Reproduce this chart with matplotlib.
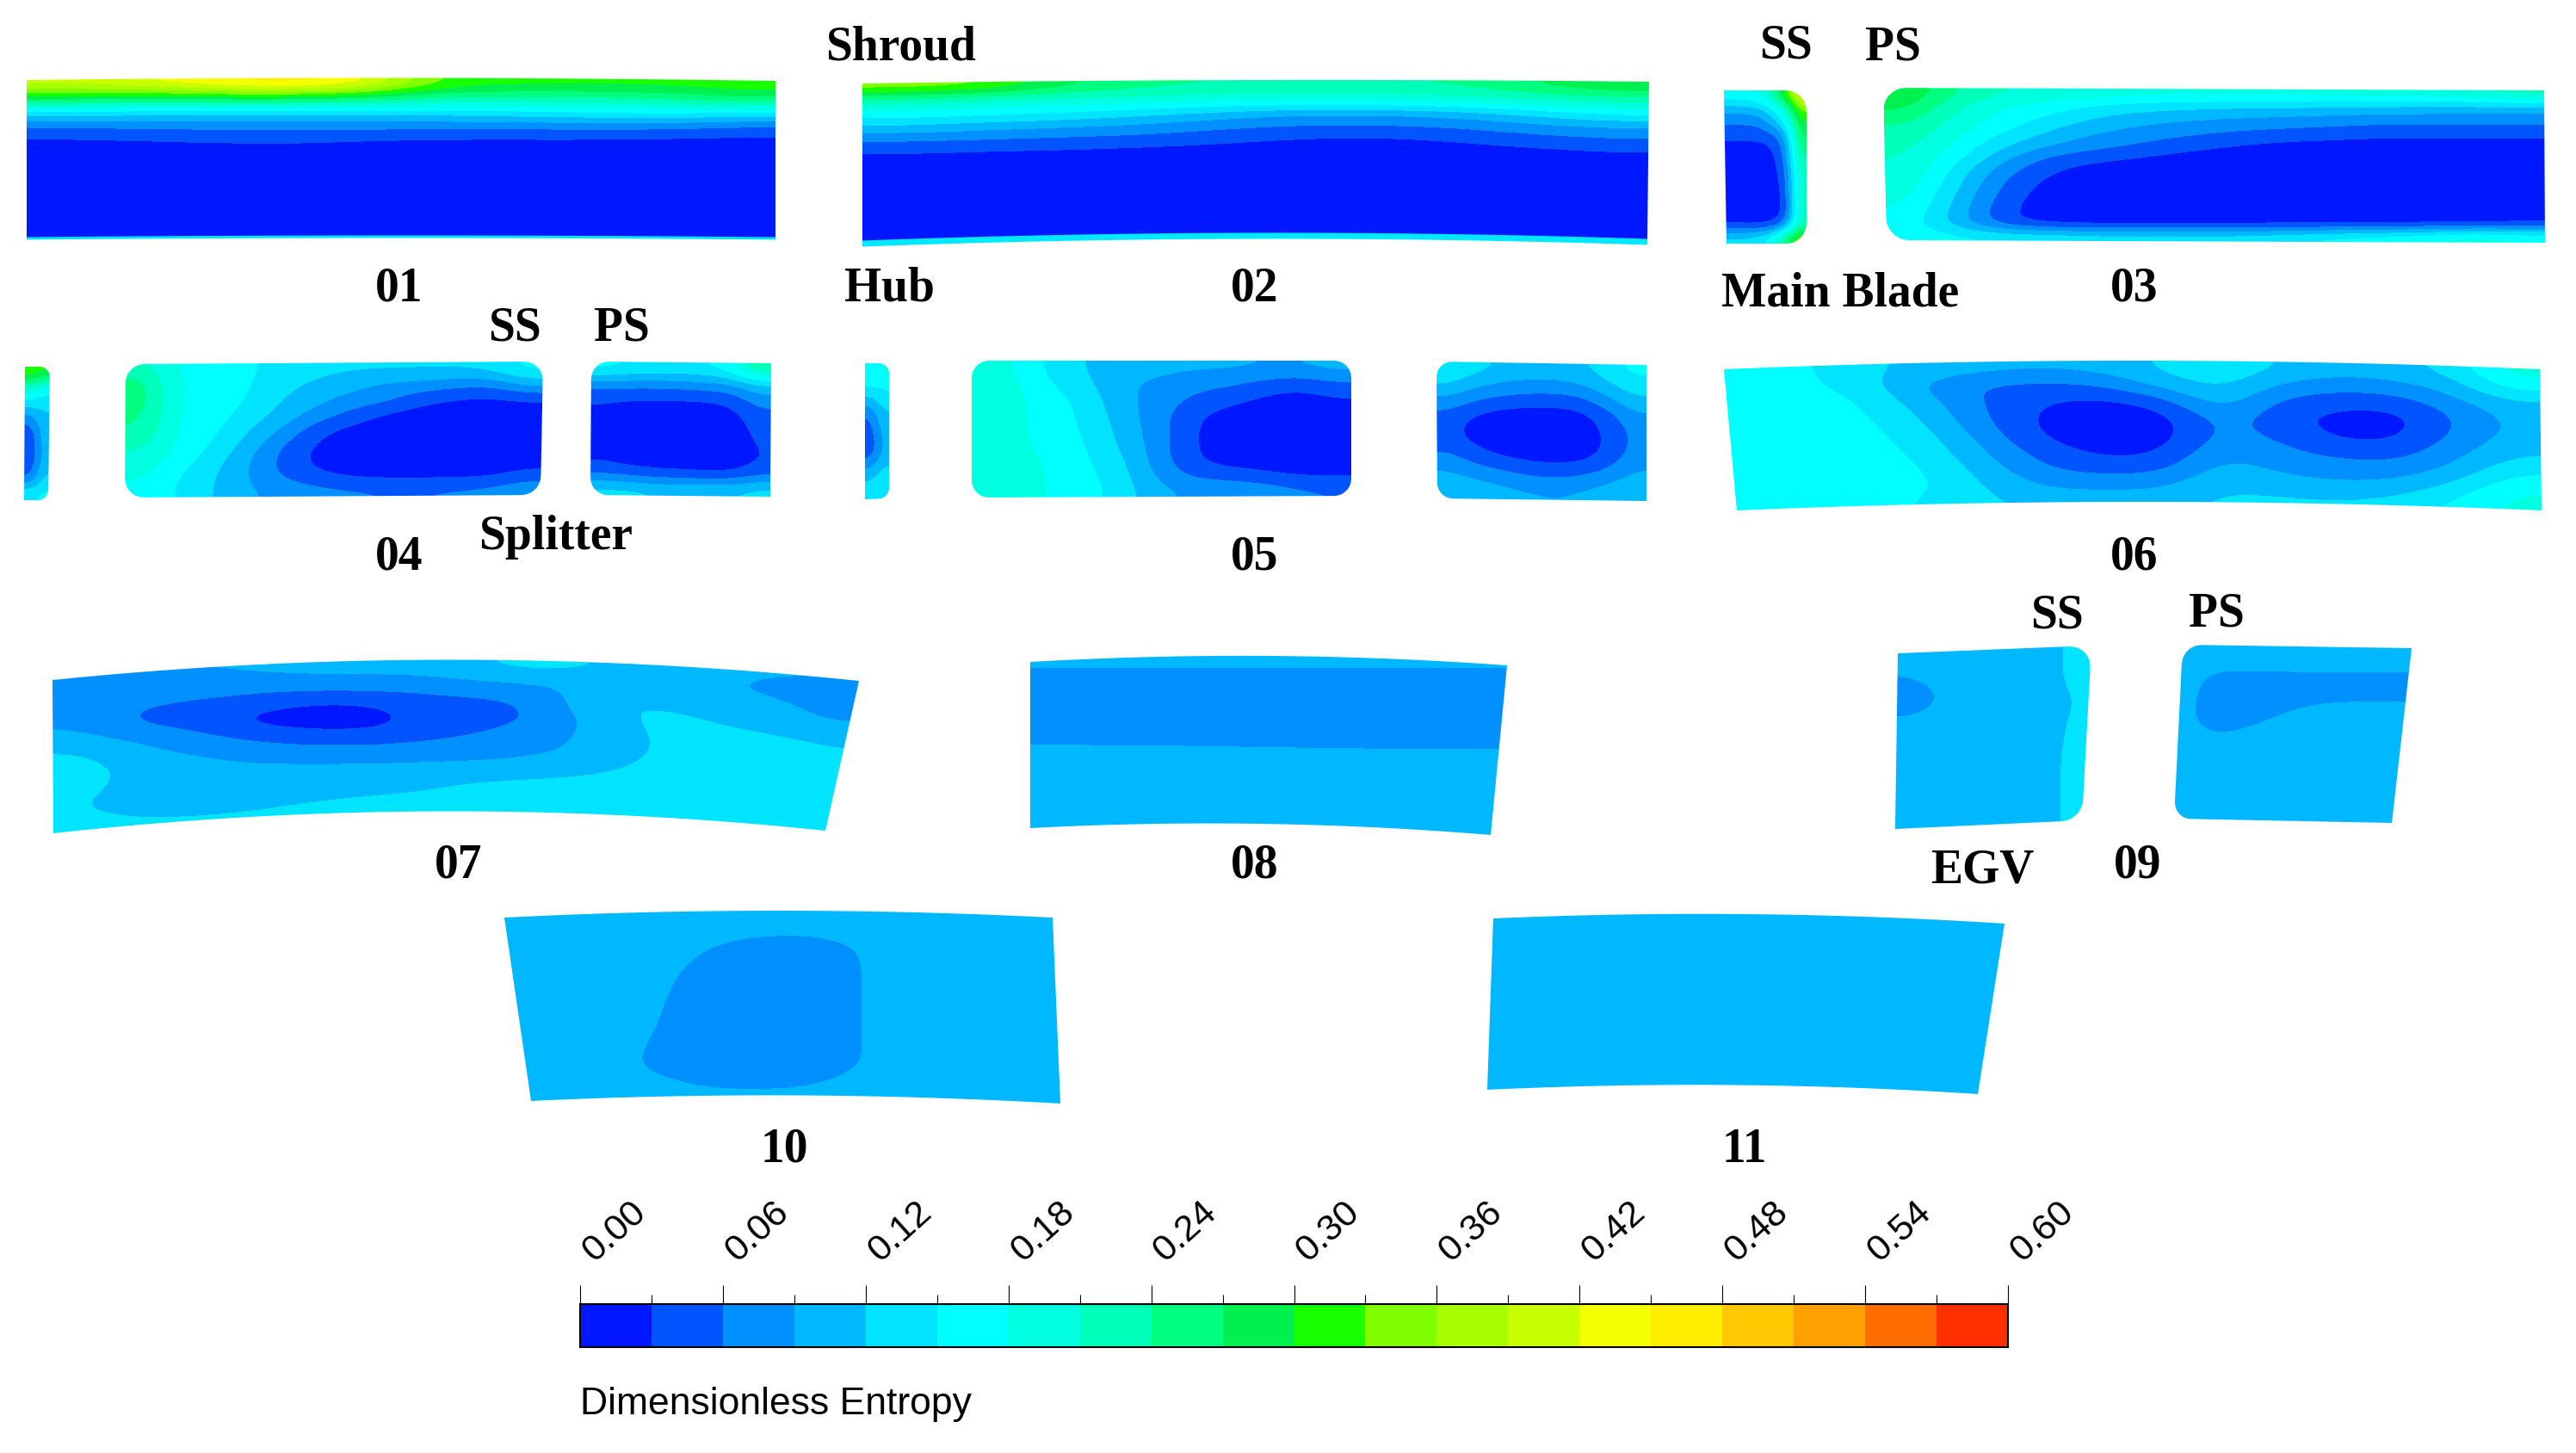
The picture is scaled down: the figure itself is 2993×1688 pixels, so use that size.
import numpy as np
import matplotlib
matplotlib.use('Agg')
import matplotlib.pyplot as plt
from matplotlib.colors import ListedColormap, BoundaryNorm
from matplotlib.path import Path
from matplotlib.cm import ScalarMappable
from matplotlib.transforms import ScaledTranslation

# contour bands of the legend
levels = [round(0.03 * i, 2) for i in range(21)]
band_colors = ['#0018ff', '#0055ff', '#0090ff', '#00b8ff', '#00e4ff', '#00ffff', '#00ffe0', '#00ffb8',
               '#00ff80', '#00f050', '#18ff00', '#80ff00', '#a8ff00', '#c8ff00', '#f4ff00', '#ffee00',
               '#ffc800', '#ffa000', '#ff6c00', '#ff3000']
major_ticks = [0.00, 0.06, 0.12, 0.18, 0.24, 0.30, 0.36, 0.42, 0.48, 0.54, 0.60]
minor_ticks = [0.03, 0.09, 0.15, 0.21, 0.27, 0.33, 0.39, 0.45, 0.51, 0.57]

s01 = [[.40, .42, .45, .47, .44, .32, .31, .31, .31, .32],
       [.30, .28, .29, .29, .27, .24, .24, .24, .25, .28],
       [.15, .14, .14, .14, .14, .14, .15, .16, .17, .16],
       [.068, .07, .072, .073, .075, .075, .075, .078, .078, .065],
       [.03, .035, .04, .042, .035, .03, .03, .03, .028, .025],
       [.012, .012, .014, .016, .012, .012, .012, .012, .012, .012],
       [.008] * 10, [.008] * 10, [.008] * 10, [.008] * 10, [.008] * 10, [.008] * 10]
s02 = [[.36, .34, .28, .25, .24, .24, .24, .24, .27, .30],
       [.23, .21, .20, .20, .19, .19, .19, .20, .21, .23],
       [.17, .16, .15, .13, .11, .09, .09, .10, .13, .16],
       [.115, .10, .09, .08, .065, .055, .055, .06, .075, .09],
       [.06, .055, .05, .045, .035, .025, .02, .03, .045, .055],
       [.028, .022, .02, .015, .012, .01, .01, .01, .015, .025],
       [.008] * 10, [.008] * 10, [.008] * 10, [.008] * 10, [.008] * 10, [.008] * 10]
s03_ss = [[.17, .17, .18, .22, .32, .42],
          [.10, .10, .11, .14, .20, .34],
          [.065, .065, .07, .10, .16, .30],
          [.038, .038, .04, .05, .09, .28],
          [.02, .02, .02, .025, .07, .26],
          [.012, .012, .014, .018, .06, .24],
          [.012, .012, .012, .015, .05, .22],
          [.012, .012, .012, .012, .04, .22],
          [.012, .012, .012, .012, .035, .22],
          [.012, .012, .012, .012, .03, .22],
          [.025, .02, .02, .025, .07, .22],
          [.13, .13, .14, .17, .26, .34]]
s03_ps = [[.30, .24, .21, .20, .20, .19, .19, .19, .19, .20, .20, .20, .21, .23],
          [.28, .21, .18, .165, .14, .13, .125, .12, .12, .115, .115, .11, .11, .11],
          [.25, .20, .17, .14, .115, .10, .09, .085, .08, .075, .07, .07, .07, .07],
          [.23, .19, .15, .115, .09, .075, .065, .055, .05, .045, .04, .04, .04, .04],
          [.22, .175, .125, .09, .07, .055, .04, .028, .02, .018, .015, .015, .015, .015],
          [.21, .165, .095, .05, .035, .025, .015, .012, .01, .01, .01, .01, .01, .01],
          [.21, .14, .07, .03, .015, .012, .01, .01, .01, .01, .01, .01, .01, .01],
          [.20, .13, .055, .018, .01, .01, .01, .01, .01, .01, .01, .01, .01, .01],
          [.19, .12, .045, .012, .01, .01, .01, .01, .01, .01, .01, .01, .01, .01],
          [.18, .11, .035, .012, .01, .01, .01, .01, .01, .01, .01, .01, .01, .01],
          [.17, .11, .04, .015, .012, .012, .012, .012, .012, .012, .012, .012, .012, .02],
          [.17, .16, .15, .15, .14, .14, .14, .14, .15, .16, .17, .18, .20, .18]]
s04_strip = [[.32, .32, .30], [.22, .20, .18], [.15, .14, .13], [.09, .11, .12], [.05, .08, .11],
             [.03, .07, .11], [.028, .07, .105], [.035, .08, .11], [.07, .10, .13], [.15, .15, .16]]
s04_ss = [[.22, .175, .17, .155, .14, .13, .125, .125, .125, .125, .13, .16],
          [.26, .175, .17, .155, .13, .115, .10, .085, .08, .07, .065, .10],
          [.26, .175, .17, .15, .12, .10, .08, .07, .04, .028, .022, .03],
          [.25, .175, .165, .14, .11, .08, .05, .025, .015, .012, .012, .015],
          [.24, .175, .16, .125, .09, .04, .02, .012, .01, .01, .01, .015],
          [.22, .175, .15, .11, .06, .025, .012, .01, .01, .01, .01, .015],
          [.20, .17, .135, .095, .05, .02, .012, .01, .01, .01, .01, .015],
          [.19, .15, .125, .09, .055, .035, .022, .02, .02, .02, .022, .04],
          [.17, .15, .12, .095, .08, .07, .065, .06, .06, .065, .07, .09]]
s04_ps = [[.16, .15, .145, .145, .15, .17, .25],
          [.07, .07, .07, .075, .08, .09, .12],
          [.035, .03, .03, .03, .032, .04, .08],
          [.02, .012, .012, .012, .012, .02, .05],
          [.02, .012, .012, .012, .012, .015, .04],
          [.02, .012, .012, .012, .012, .012, .035],
          [.025, .015, .012, .012, .012, .012, .03],
          [.06, .05, .04, .035, .03, .03, .05],
          [.13, .13, .12, .12, .12, .12, .13]]
s05_strip = [[.18, .17, .19], [.16, .16, .16], [.12, .13, .14], [.07, .10, .12], [.05, .08, .11],
             [.04, .07, .10], [.04, .07, .10], [.08, .10, .12], [.12, .13, .14], [.13, .14, .15]]
s05_ss = [[.20, .17, .135, .115, .105, .10, .095, .095, .09, .09, .10],
          [.21, .175, .145, .12, .095, .08, .07, .065, .05, .038, .055],
          [.21, .18, .16, .13, .095, .075, .055, .04, .025, .018, .028],
          [.21, .18, .165, .135, .10, .07, .035, .018, .012, .01, .015],
          [.21, .18, .165, .14, .105, .07, .028, .012, .01, .01, .012],
          [.21, .18, .17, .145, .11, .07, .028, .012, .01, .01, .012],
          [.21, .19, .17, .15, .12, .07, .03, .016, .012, .01, .015],
          [.21, .19, .175, .155, .125, .08, .05, .045, .035, .025, .025],
          [.21, .19, .175, .16, .13, .095, .085, .085, .08, .065, .06]]
s05_ps = [[.15, .13, .115, .11, .11, .115, .135, .16],
          [.12, .095, .085, .08, .08, .09, .115, .14],
          [.08, .06, .05, .045, .045, .05, .08, .115],
          [.05, .025, .015, .012, .012, .02, .045, .085],
          [.04, .015, .01, .01, .01, .012, .035, .07],
          [.05, .03, .015, .01, .01, .012, .032, .07],
          [.08, .055, .04, .03, .025, .028, .045, .08],
          [.10, .09, .08, .065, .06, .065, .08, .10],
          [.115, .11, .10, .095, .09, .095, .105, .11]]
s06 = [[.175, .15, .125, .11, .10, .095, .10, .125, .15, .115, .105, .11, .13, .20],
       [.175, .155, .13, .08, .055, .05, .06, .10, .13, .085, .07, .08, .105, .17],
       [.178, .17, .145, .10, .055, .03, .018, .04, .115, .05, .04, .04, .08, .115],
       [.178, .17, .155, .115, .06, .02, .012, .01, .08, .04, .018, .015, .06, .10],
       [.178, .175, .16, .13, .075, .022, .012, .01, .075, .055, .022, .02, .065, .10],
       [.178, .178, .165, .14, .09, .045, .02, .025, .09, .07, .05, .045, .08, .115],
       [.178, .178, .17, .15, .105, .06, .05, .05, .105, .085, .075, .07, .095, .14],
       [.178, .178, .175, .155, .12, .085, .08, .085, .12, .105, .095, .10, .125, .17],
       [.178, .178, .175, .14, .125, .115, .115, .11, .125, .13, .125, .13, .155, .19]]
s07 = [[.09, .09, .09, .095, .10, .10, .105, .12, .13, .12, .105, .10, .10, .10],
       [.085, .08, .08, .075, .075, .075, .07, .08, .085, .105, .105, .093, .08, .075],
       [.08, .065, .055, .045, .028, .03, .05, .05, .065, .125, .118, .105, .095, .08],
       [.085, .05, .045, .018, .012, .012, .04, .05, .062, .105, .13, .12, .105, .085],
       [.095, .085, .07, .055, .045, .045, .055, .065, .08, .10, .125, .13, .125, .11],
       [.125, .10, .09, .08, .08, .08, .08, .08, .088, .10, .125, .135, .145, .125],
       [.135, .11, .105, .10, .10, .10, .105, .11, .115, .12, .13, .15, .15, .13],
       [.13, .105, .105, .105, .11, .115, .12, .13, .13, .13, .135, .145, .14, .13],
       [.122, .105, .11, .118, .125, .13, .13, .135, .135, .135, .135, .135, .135, .13],
       [.13] * 14]
s08 = [[.094, .094, .094, .094], [.08, .08, .08, .08], [.08, .08, .08, .08], [.08, .08, .08, .08],
       [.08, .08, .078, .078], [.10, .098, .096, .095], [.105, .105, .105, .105], [.105, .105, .105, .105],
       [.105, .105, .105, .105], [.105, .105, .105, .105]]
s09_ss = [[.10, .10, .10, .10, .10, .10, .10, .15],
          [.092, .098, .10, .10, .10, .10, .10, .15],
          [.07, .085, .10, .10, .10, .10, .10, .125],
          [.093, .098, .10, .10, .10, .10, .10, .135],
          [.10, .10, .10, .10, .10, .10, .10, .145],
          [.10, .10, .10, .10, .10, .10, .105, .15],
          [.10, .10, .10, .10, .10, .10, .105, .15],
          [.10, .10, .10, .10, .10, .10, .105, .15],
          [.10, .10, .10, .10, .10, .10, .105, .15]]
s09_ps = [[.10, .10, .10, .10, .10, .10, .10, .10, .10],
          [.097, .085, .085, .085, .085, .085, .085, .085, .085],
          [.095, .08, .08, .08, .085, .087, .088, .088, .088],
          [.095, .08, .085, .092, .097, .10, .10, .10, .10],
          [.098, .10, .10, .10, .10, .10, .10, .10, .10],
          [.10, .10, .10, .10, .10, .10, .10, .10, .10],
          [.10, .10, .10, .10, .10, .10, .10, .10, .10],
          [.10, .10, .10, .10, .10, .10, .10, .10, .10]]
s10 = [[.10] * 10,
       [.10, .10, .10, .092, .082, .08, .092, .10, .10, .10],
       [.10, .10, .10, .085, .08, .08, .091, .10, .10, .10],
       [.10, .10, .098, .08, .08, .08, .091, .10, .10, .10],
       [.10, .10, .095, .08, .08, .08, .091, .10, .10, .10],
       [.10, .10, .091, .08, .08, .08, .091, .10, .10, .10],
       [.10, .10, .088, .08, .08, .08, .091, .10, .10, .10],
       [.10, .10, .10, .093, .093, .093, .10, .10, .10, .10]]
s11 = [[.10, .10, .10], [.10, .10, .10], [.10, .10, .10]]

# grid, corners tl tr br bl in pixels, bow of top and bottom edge, corner radii tl tr br bl
sections = [
    (s01, (31, 93), (901, 94), (901, 277), (31, 277), 3, 2, (0, 0, 0, 0)),
    (s02, (1002, 97), (1916, 95), (1914, 281), (1002, 283), 3, 8, (0, 0, 0, 0)),
    (s03_ss, (2003, 105), (2099, 105), (2099, 283), (2006, 283), 0, 0, (0, 24, 24, 0)),
    (s03_ps, (2188, 102), (2956, 105), (2957, 282), (2192, 279), 0, 0, (26, 0, 0, 26)),
    (s04_strip, (29, 426), (58, 426), (56, 581), (28, 581), 0, 0, (0, 12, 12, 0)),
    (s04_ss, (146, 423), (631, 420), (628, 575), (145, 578), 0, 0, (22, 22, 22, 22)),
    (s04_ps, (687, 420), (896, 422), (895, 577), (686, 575), 0, 0, (20, 0, 0, 20)),
    (s05_strip, (1005, 422), (1033, 422), (1033, 579), (1005, 580), 0, 0, (0, 12, 12, 0)),
    (s05_ss, (1129, 419), (1570, 419), (1570, 576), (1129, 578), 0, 0, (20, 20, 20, 20)),
    (s05_ps, (1669, 420), (1913, 424), (1913, 582), (1670, 579), 0, 0, (18, 0, 0, 18)),
    (s06, (2003, 429), (2951, 429), (2953, 593), (2018, 593), 10, 10, (0, 0, 0, 0)),
    (s07, (61, 790), (998, 791), (959, 965), (62, 968), 24, 24, (0, 0, 0, 0)),
    (s08, (1197, 769), (1751, 773), (1732, 970), (1197, 962), 9, 9, (0, 0, 0, 0)),
    (s09_ss, (2205, 759), (2430, 750), (2419, 953), (2202, 963), 0, 0, (0, 26, 24, 0)),
    (s09_ps, (2536, 749), (2802, 753), (2779, 956), (2526, 951), 0, 0, (22, 0, 0, 20)),
    (s10, (586, 1066), (1223, 1066), (1232, 1282), (617, 1279), 8, 8, (0, 0, 0, 0)),
    (s11, (1735, 1067), (2329, 1073), (2298, 1271), (1728, 1266), 8, 8, (0, 0, 0, 0)),
]
# thin bright line along the hub of the first two sections: section, width in px
hub_lines = [(0, 3), (1, 7)]

labels = ['Shroud', '01', 'Hub', '02', 'Main Blade', '03', 'SS', 'PS', 'SS', 'PS', '04', 'Splitter',
          '05', '06', '07', '08', 'SS', 'PS', 'EGV', '09', '10', '11']
label_x = [1046, 464, 1033, 1458, 2138, 2480, 2075, 2199, 598, 722, 464, 646,
           1458, 2480, 533, 1458, 2390, 2575, 2303, 2484, 911, 2027]
label_y = [56, 335, 335, 335, 342, 335, 54, 56, 382, 382, 647, 624,
           647, 647, 1006, 1006, 716, 714, 1012, 1006, 1336, 1336]


def section_outline(tl, tr, br, bl, bow_top, bow_bot, radii):
    w = max(tr[0] - tl[0], 1)
    h = max(bl[1] - tl[1], 1)
    pts = []
    # rounded rectangle in unit square, going round from top left
    arcs = [(radii[0], 0, 0, 180, 270), (radii[1], 1, 0, 270, 360),
            (radii[2], 1, 1, 0, 90), (radii[3], 0, 1, 90, 180)]
    for r, cu, cv, a0, a1 in arcs:
        ru = r / w
        rv = r / h
        cx = cu + ru if cu == 0 else cu - ru
        cy = cv + rv if cv == 0 else cv - rv
        for a in np.radians(np.linspace(a0, a1, 8)):
            pts.append((cx + ru * np.cos(a), cy + rv * np.sin(a)))
        # long edge sampled too so that it can bow
        if cv == 0 and cu == 0:
            pts += [(u, 0) for u in np.linspace(ru, 1 - radii[1] / w, 40)]
        if cv == 1 and cu == 1:
            pts += [(u, 1) for u in np.linspace(1 - ru, radii[3] / w, 40)]
    out = []
    for u, v in pts:
        x = (1 - v) * ((1 - u) * tl[0] + u * tr[0]) + v * ((1 - u) * bl[0] + u * br[0])
        y = (1 - v) * ((1 - u) * tl[1] + u * tr[1]) + v * ((1 - u) * bl[1] + u * br[1])
        y -= (1 - (2 * u - 1) ** 2) * ((1 - v) * bow_top + v * bow_bot)
        out.append((x, y))
    out.append(out[0])
    return np.array(out)


cmap = ListedColormap(band_colors)
norm = BoundaryNorm(levels, cmap.N)

fig = plt.figure(figsize=(29.93, 16.88), dpi=100)
ax = fig.add_axes([0, 0, 1, 1])

for grid, tl, tr, br, bl, bow_top, bow_bot, radii in sections:
    outline = section_outline(tl, tr, br, bl, bow_top, bow_bot, radii)
    x0, y0 = outline.min(axis=0)
    x1, y1 = outline.max(axis=0)
    im = ax.imshow(np.array(grid), extent=(x0, x1, y1, y0), origin='upper', aspect='auto', cmap=cmap, norm=norm,
                   interpolation='bicubic', interpolation_stage='data')
    im.set_clip_path(Path(outline), ax.transData)

for idx, width in hub_lines:
    grid, tl, tr, br, bl, bow_top, bow_bot, radii = sections[idx]
    u = np.linspace(0, 1, 50)
    ax.plot(bl[0] + u * (br[0] - bl[0]), bl[1] + u * (br[1] - bl[1]) - (1 - (2 * u - 1) ** 2) * bow_bot,
            color='#00e8ff', lw=width * 0.72, solid_capstyle='butt')

for txt, x, y in zip(labels, label_x, label_y):
    ax.text(x, y, txt, family='Liberation Serif', weight='bold', size=40, ha='center', va='center')

ax.text(674, 1631, 'Dimensionless Entropy', family='Liberation Sans', size=32, ha='left', va='center')

ax.set_xlim(0, 2993)
ax.set_ylim(1688, 0)
ax.axis('off')

# legend bar
cax = fig.add_axes([674 / 2993, 1 - 1565 / 1688, (2333 - 674) / 2993, 50 / 1688])
cb = fig.colorbar(ScalarMappable(norm=norm, cmap=cmap), cax=cax, orientation='horizontal',
                  ticklocation='top', spacing='proportional', drawedges=False)
cb.set_ticks(major_ticks)
cb.set_ticks(minor_ticks, minor=True)
cb.set_ticklabels(['%.2f' % t for t in major_ticks])
cb.outline.set_linewidth(1.5)
cax.tick_params(axis='x', which='major', length=16, width=0.8, pad=14, labelsize=31)
cax.tick_params(axis='x', which='minor', length=8, width=0.8)
shift = ScaledTranslation(16 / 72, 0, fig.dpi_scale_trans)
for lab in cax.get_xticklabels():
    lab.set_family('Liberation Sans')
    lab.set_rotation(42)
    lab.set_rotation_mode('anchor')
    lab.set_ha('left')
    lab.set_va('bottom')
    lab.set_transform(lab.get_transform() + shift)

fig.savefig('out.png', dpi=100)
